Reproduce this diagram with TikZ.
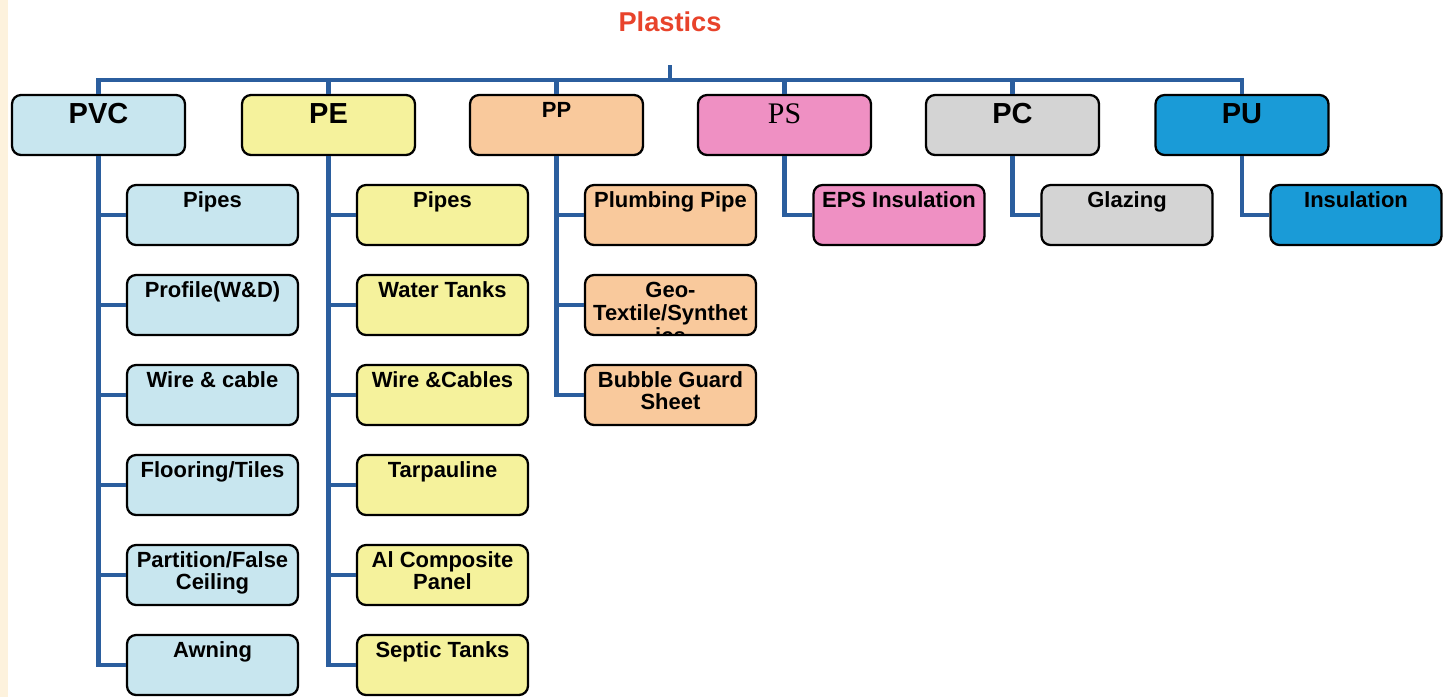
\documentclass[tikz,border=0pt]{standalone}
\usepackage{fontspec}
\setmainfont{Liberation Sans}
\newfontfamily\psfont{Liberation Serif}
\definecolor{pvcblue}{HTML}{C8E6EF}
\definecolor{peyellow}{HTML}{F5F29C}
\definecolor{pporange}{HTML}{F9C99C}
\definecolor{pspink}{HTML}{EF90C3}
\definecolor{pcgrey}{HTML}{D4D4D4}
\definecolor{publue}{HTML}{1A9BD7}
\definecolor{linkblue}{HTML}{2B5E9E}
\definecolor{titlered}{HTML}{E8432B}
\definecolor{strip}{HTML}{FDF2DD}
\tikzset{
  grp/.style={draw=black,line width=1.3pt,rounded corners=0.18cm,minimum width=3.46cm,minimum height=1.2cm,inner sep=0pt},
  item/.style={grp,minimum width=3.42cm},
  grptxt/.style={anchor=north,inner sep=0pt,yshift=-0.18cm,font=\fontsize{16.5}{18}\selectfont\bfseries},
  itemtxt/.style={anchor=north,inner sep=0pt,yshift=-0.15cm,align=center,font=\fontsize{12.5}{12.5}\selectfont\bfseries},
  link/.style={draw=linkblue,line width=2.6pt}
}
\begin{document}
\begin{tikzpicture}[x=0.02cm,y=-0.02cm]
	  \useasboundingbox (0,0) rectangle (1445,697);
	  \fill[strip] (0,0) rectangle (8,697);
	  \node (title) [text=titlered,font=\fontsize{15.5}{17}\selectfont\bfseries] at (670,22) {Plastics};
	  \coordinate (hub) at (670,65);
	  \coordinate (bar) at (0,80);
	  % main groups
	  \node (pvc) [grp,fill=pvcblue,label={[grptxt]north:PVC}] at (98.5,125) {};
	  \node (pe) [grp,fill=peyellow,label={[grptxt]north:PE}] at (328.5,125) {};
	  \node (pp) [grp,fill=pporange,label={[grptxt,yshift=0.02cm,font=\fontsize{12.5}{13}\selectfont\bfseries]north:PP}] at (556.5,125) {};
	  \node (ps) [grp,fill=pspink,label={[grptxt,yshift=-0.02cm,font=\fontsize{17}{18}\selectfont\psfont]north:PS}] at (784.5,125) {};
	  \node (pc) [grp,fill=pcgrey,label={[grptxt]north:PC}] at (1012.5,125) {};
	  \node (pu) [grp,fill=publue,label={[grptxt]north:PU}] at (1242,125) {};
	  % PVC uses
	  \node (pvcpipe) [item,fill=pvcblue,label={[itemtxt]north:Pipes}] at (212.5,215) {};
	  \node (pvcprof) [item,fill=pvcblue,label={[itemtxt]north:Profile(W\&D)}] at (212.5,305) {};
	  \node (pvcwire) [item,fill=pvcblue,label={[itemtxt]north:Wire \& cable}] at (212.5,395) {};
	  \node (pvcfloor) [item,fill=pvcblue,label={[itemtxt]north:Flooring/Tiles}] at (212.5,485) {};
	  \node (pvcpart) [item,fill=pvcblue,label={[itemtxt]north:{Partition/False\\Ceiling}}] at (212.5,575) {};
	  \node (pvcawn) [item,fill=pvcblue,label={[itemtxt]north:Awning}] at (212.5,665) {};
	  % PE uses
	  \node (pepipe) [item,fill=peyellow,label={[itemtxt]north:Pipes}] at (442.5,215) {};
	  \node (petank) [item,fill=peyellow,label={[itemtxt]north:Water Tanks}] at (442.5,305) {};
	  \node (pewire) [item,fill=peyellow,label={[itemtxt]north:Wire \&Cables}] at (442.5,395) {};
	  \node (petarp) [item,fill=peyellow,label={[itemtxt]north:Tarpauline}] at (442.5,485) {};
	  \node (pepanel) [item,fill=peyellow,label={[itemtxt]north:{Al Composite\\Panel}}] at (442.5,575) {};
	  \node (peseptic) [item,fill=peyellow,label={[itemtxt]north:Septic Tanks}] at (442.5,665) {};
	  % PP uses
	  \node (ppplumb) [item,fill=pporange,label={[itemtxt]north:Plumbing Pipe}] at (670.5,215) {};
	  \node (ppgeo) [item,fill=pporange] at (670.5,305) {};
	  \begin{scope}
	    \clip ([shift={(1.3pt,1.3pt)}]ppgeo.south west) rectangle ([shift={(-1.3pt,-1.3pt)}]ppgeo.north east);
	    \node (ppgeotxt) [itemtxt,font=\fontsize{12.5}{13.3}\selectfont\bfseries] at (ppgeo.north) {Geo-\\Textile/Synthet\\ics};
	  \end{scope}
	  \node (ppbubble) [item,fill=pporange,label={[itemtxt]north:{Bubble Guard\\Sheet}}] at (670.5,395) {};
	  % PS, PC, PU uses
	  \node (pseps) [item,fill=pspink,label={[itemtxt]north:EPS Insulation}] at (899,215) {};
	  \node (pcglaze) [item,fill=pcgrey,label={[itemtxt]north:Glazing}] at (1127,215) {};
	  \node (puins) [item,fill=publue,label={[itemtxt]north:Insulation}] at (1356,215) {};
	  % connectors
	  \draw[link] (hub) -- (hub |- bar);
	  \draw[link] (pvc.north) -- (pvc.north |- bar) -| (pu.north);
	  \draw[link] (pe.north) -- (pe.north |- bar);
	  \draw[link] (pp.north) -- (pp.north |- bar);
	  \draw[link] (ps.north) -- (ps.north |- bar);
	  \draw[link] (pc.north) -- (pc.north |- bar);
	  \draw[link] (pvc.south) |- (pvcpipe.west);
	  \draw[link] (pvc.south) |- (pvcprof.west);
	  \draw[link] (pvc.south) |- (pvcwire.west);
	  \draw[link] (pvc.south) |- (pvcfloor.west);
	  \draw[link] (pvc.south) |- (pvcpart.west);
	  \draw[link] (pvc.south) |- (pvcawn.west);
	  \draw[link] (pe.south) |- (pepipe.west);
	  \draw[link] (pe.south) |- (petank.west);
	  \draw[link] (pe.south) |- (pewire.west);
	  \draw[link] (pe.south) |- (petarp.west);
	  \draw[link] (pe.south) |- (pepanel.west);
	  \draw[link] (pe.south) |- (peseptic.west);
	  \draw[link] (pp.south) |- (ppplumb.west);
	  \draw[link] (pp.south) |- (ppgeo.west);
	  \draw[link] (pp.south) |- (ppbubble.west);
	  \draw[link] (ps.south) |- (pseps.west);
	  \draw[link] (pc.south) |- (pcglaze.west);
	  \draw[link] (pu.south) |- (puins.west);
	\end{tikzpicture}
\end{document}
